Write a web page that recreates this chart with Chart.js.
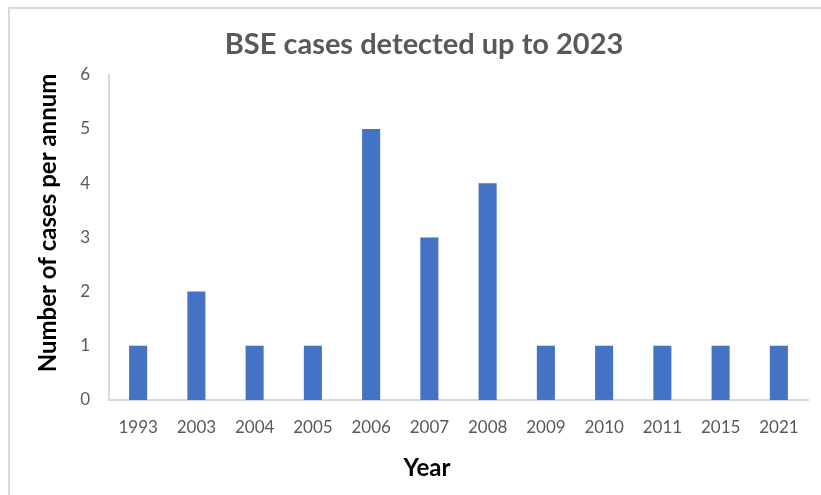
<!DOCTYPE html>
<html>
<head>
<meta charset="utf-8">
<script src="https://cdn.jsdelivr.net/npm/chart.js@4"></script>
<style>
  html, body { margin: 0; padding: 0; background: #ffffff; }
  #wrap { width: 821px; height: 495px; position: relative; }
</style>
</head>
<body>
<div id="wrap"><canvas id="c" width="821" height="495"></canvas></div>
<script>
const chartTitle = "BSE cases detected up to 2023";
const yAxisTitle = "Number of cases per annum";
const xAxisTitle = "Year";
const years = ["1993", "2003", "2004", "2005", "2006", "2007", "2008", "2009", "2010", "2011", "2015", "2021"];
const cases = [1, 2, 1, 1, 5, 3, 4, 1, 1, 1, 1, 1];
const yTicks = [0, 1, 2, 3, 4, 5, 6];

const FONT = "Lato, 'Open Sans', sans-serif";

const framePlugin = {
  id: 'frame',
  beforeDraw(chart) {
    const ctx = chart.ctx;
    ctx.save();
    ctx.fillStyle = '#ffffff';
    ctx.fillRect(0, 0, chart.width, chart.height);
    ctx.strokeStyle = '#d9d9d9';
    ctx.lineWidth = 2;
    ctx.beginPath();
    ctx.moveTo(9, chart.height + 2);
    ctx.lineTo(9, 8);
    ctx.lineTo(chart.width + 2, 8);
    ctx.stroke();
    ctx.restore();
  },
  afterDraw(chart) {
    const ctx = chart.ctx;
    const area = chart.chartArea;
    ctx.save();
    ctx.fillStyle = '#000000';
    ctx.font = "bold 24px " + FONT;
    ctx.textAlign = 'center';
    ctx.textBaseline = 'middle';
    // x axis title
    ctx.fillText(xAxisTitle, 427, 468);
    // y axis title (rotated)
    ctx.translate(48, 223);
    ctx.rotate(-Math.PI / 2);
    ctx.fillText(yAxisTitle, 0, 0);
    ctx.restore();
  }
};

new Chart(document.getElementById('c'), {
  type: 'bar',
  data: {
    labels: years,
    datasets: [{
      label: 'Cases',
      data: cases,
      backgroundColor: '#4472C4',
      borderWidth: 0,
      barPercentage: 0.31,
      categoryPercentage: 1.0
    }]
  },
  options: {
    responsive: false,
    animation: false,
    layout: { padding: { left: 40, right: 13, top: 0, bottom: 0 } },
    plugins: {
      legend: { display: false },
      tooltip: { enabled: false },
      title: {
        display: true,
        text: chartTitle,
        color: '#595959',
        font: { family: FONT, size: 29, weight: 'bold' },
        padding: { top: 27, bottom: 13 }
      }
    },
    scales: {
      x: {
        grid: { display: false, drawTicks: false },
        border: { display: true, color: '#d9d9d9', width: 2 },
        ticks: {
          color: '#595959',
          font: { family: FONT, size: 17 },
          padding: 17,
          maxRotation: 0,
          autoSkip: false
        },
        afterFit(scale) { scale.height = 95; }
      },
      y: {
        min: 0,
        max: 6,
        afterBuildTicks(scale) { scale.ticks = yTicks.map(v => ({ value: v })); },
        grid: { display: false, drawTicks: false },
        border: { display: true, color: '#d9d9d9', width: 2 },
        ticks: {
          color: '#595959',
          font: { family: FONT, size: 17 },
          padding: 19
        },
        afterFit(scale) { scale.width = 69; }
      }
    }
  },
  plugins: [framePlugin]
});
</script>
</body>
</html>
